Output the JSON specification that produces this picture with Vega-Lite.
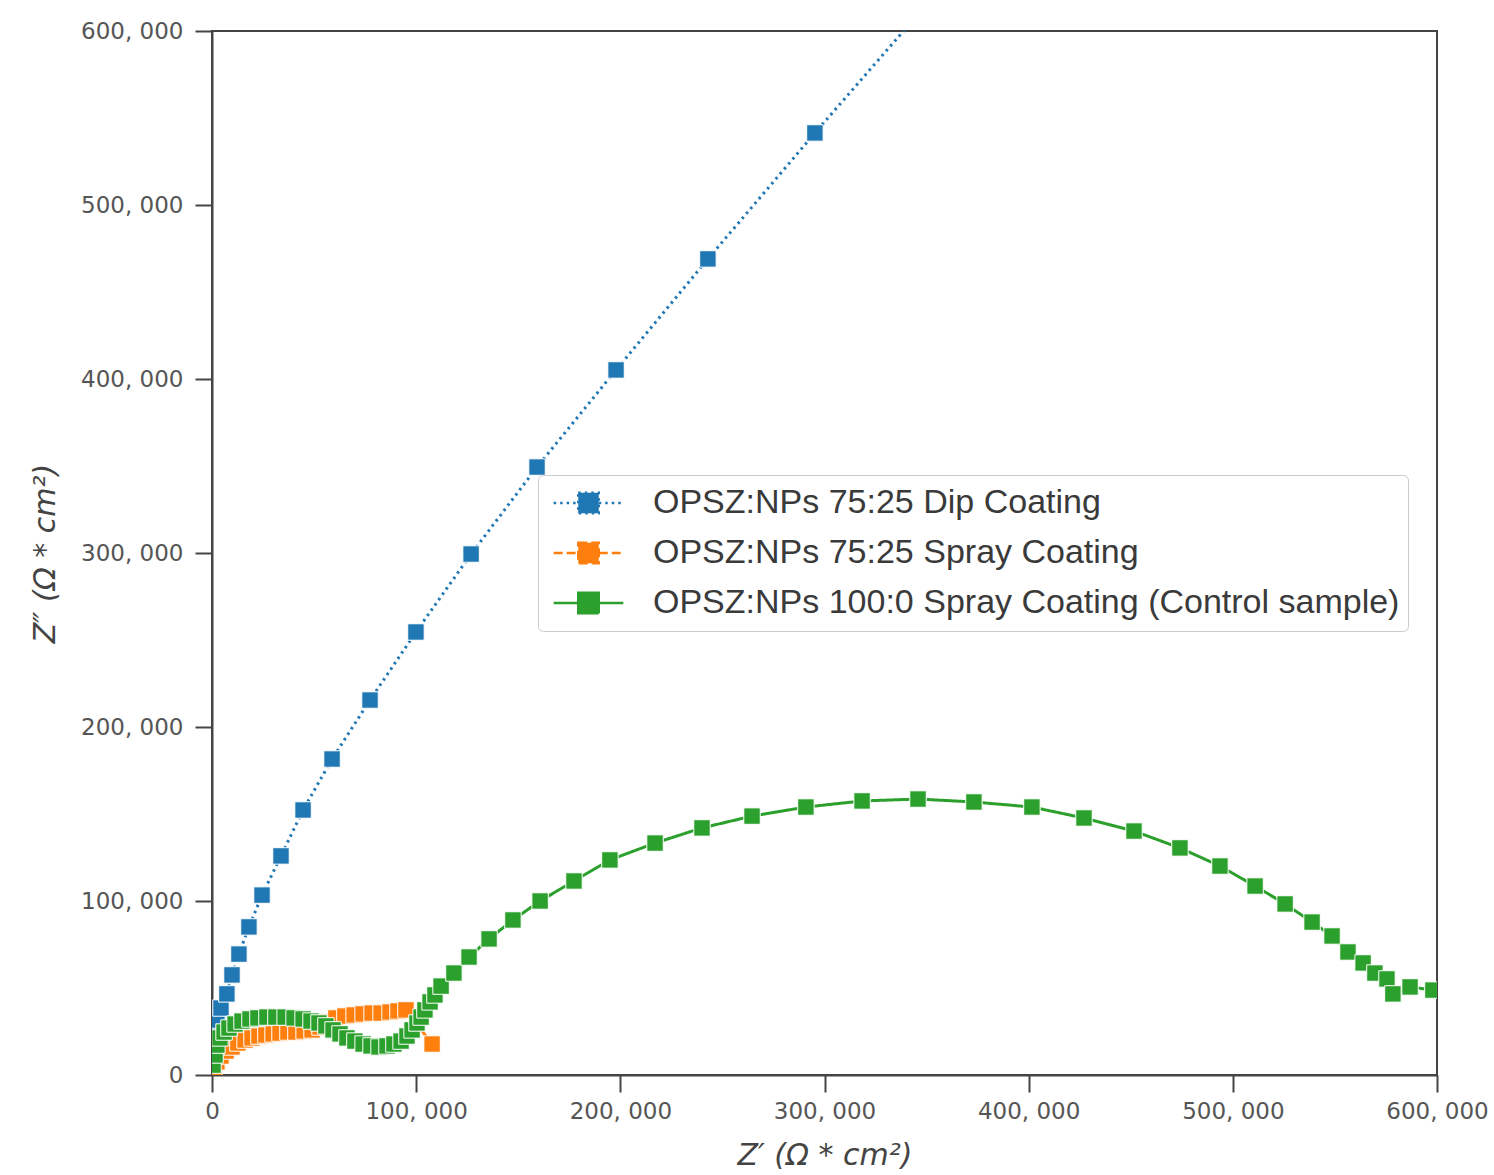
{
  "$schema": "https://vega.github.io/schema/vega-lite/v6.json",
  "autosize": {"type": "none"},
  "padding": {"left": 212, "top": 31, "right": 57, "bottom": 100},
  "width": 1225,
  "height": 1044,
  "background": "white",
  "config": {
    "view": {"stroke": "#444", "strokeWidth": 2},
    "axis": {
      "grid": false,
      "domainColor": "#444",
      "domainWidth": 2,
      "tickColor": "#444",
      "tickWidth": 2,
      "tickSize": 17,
      "labelFont": "DejaVu Sans",
      "labelFontSize": 23,
      "labelColor": "#555",
      "titleFont": "DejaVu Sans",
      "titleFontSize": 30,
      "titleFontWeight": "normal",
      "titleFontStyle": "italic",
      "titleColor": "#444"
    }
  },
  "data": {
    "values": [
      {"s": "OPSZ:NPs 75:25 Dip Coating", "x": 1200, "y": 26000},
      {"s": "OPSZ:NPs 75:25 Dip Coating", "x": 2400, "y": 31600},
      {"s": "OPSZ:NPs 75:25 Dip Coating", "x": 4400, "y": 38500},
      {"s": "OPSZ:NPs 75:25 Dip Coating", "x": 7300, "y": 46600},
      {"s": "OPSZ:NPs 75:25 Dip Coating", "x": 9800, "y": 57500},
      {"s": "OPSZ:NPs 75:25 Dip Coating", "x": 13200, "y": 69500},
      {"s": "OPSZ:NPs 75:25 Dip Coating", "x": 18100, "y": 85100},
      {"s": "OPSZ:NPs 75:25 Dip Coating", "x": 24500, "y": 103400},
      {"s": "OPSZ:NPs 75:25 Dip Coating", "x": 33800, "y": 125900},
      {"s": "OPSZ:NPs 75:25 Dip Coating", "x": 44600, "y": 152300},
      {"s": "OPSZ:NPs 75:25 Dip Coating", "x": 58800, "y": 181600},
      {"s": "OPSZ:NPs 75:25 Dip Coating", "x": 77400, "y": 215500},
      {"s": "OPSZ:NPs 75:25 Dip Coating", "x": 99900, "y": 254600},
      {"s": "OPSZ:NPs 75:25 Dip Coating", "x": 126900, "y": 299400},
      {"s": "OPSZ:NPs 75:25 Dip Coating", "x": 159200, "y": 349400},
      {"s": "OPSZ:NPs 75:25 Dip Coating", "x": 197900, "y": 405200},
      {"s": "OPSZ:NPs 75:25 Dip Coating", "x": 242900, "y": 469000},
      {"s": "OPSZ:NPs 75:25 Dip Coating", "x": 295300, "y": 541400},
      {"s": "OPSZ:NPs 75:25 Dip Coating", "x": 355000, "y": 622000},
      {"s": "OPSZ:NPs 75:25 Spray Coating", "x": 1000, "y": 4000},
      {"s": "OPSZ:NPs 75:25 Spray Coating", "x": 2400, "y": 7500},
      {"s": "OPSZ:NPs 75:25 Spray Coating", "x": 4400, "y": 10900},
      {"s": "OPSZ:NPs 75:25 Spray Coating", "x": 6900, "y": 13800},
      {"s": "OPSZ:NPs 75:25 Spray Coating", "x": 9800, "y": 16100},
      {"s": "OPSZ:NPs 75:25 Spray Coating", "x": 12700, "y": 18400},
      {"s": "OPSZ:NPs 75:25 Spray Coating", "x": 16200, "y": 20100},
      {"s": "OPSZ:NPs 75:25 Spray Coating", "x": 19600, "y": 21300},
      {"s": "OPSZ:NPs 75:25 Spray Coating", "x": 23000, "y": 22400},
      {"s": "OPSZ:NPs 75:25 Spray Coating", "x": 26400, "y": 23000},
      {"s": "OPSZ:NPs 75:25 Spray Coating", "x": 29900, "y": 23600},
      {"s": "OPSZ:NPs 75:25 Spray Coating", "x": 33300, "y": 24100},
      {"s": "OPSZ:NPs 75:25 Spray Coating", "x": 37200, "y": 24700},
      {"s": "OPSZ:NPs 75:25 Spray Coating", "x": 41100, "y": 24700},
      {"s": "OPSZ:NPs 75:25 Spray Coating", "x": 45100, "y": 25300},
      {"s": "OPSZ:NPs 75:25 Spray Coating", "x": 49000, "y": 25900},
      {"s": "OPSZ:NPs 75:25 Spray Coating", "x": 52900, "y": 27600},
      {"s": "OPSZ:NPs 75:25 Spray Coating", "x": 56800, "y": 30500},
      {"s": "OPSZ:NPs 75:25 Spray Coating", "x": 60700, "y": 32800},
      {"s": "OPSZ:NPs 75:25 Spray Coating", "x": 65100, "y": 33900},
      {"s": "OPSZ:NPs 75:25 Spray Coating", "x": 69600, "y": 34500},
      {"s": "OPSZ:NPs 75:25 Spray Coating", "x": 74000, "y": 35100},
      {"s": "OPSZ:NPs 75:25 Spray Coating", "x": 78400, "y": 35600},
      {"s": "OPSZ:NPs 75:25 Spray Coating", "x": 82800, "y": 35600},
      {"s": "OPSZ:NPs 75:25 Spray Coating", "x": 87200, "y": 36200},
      {"s": "OPSZ:NPs 75:25 Spray Coating", "x": 91100, "y": 36800},
      {"s": "OPSZ:NPs 75:25 Spray Coating", "x": 95000, "y": 37400},
      {"s": "OPSZ:NPs 75:25 Spray Coating", "x": 107800, "y": 17800},
      {"s": "OPSZ:NPs 100:0 Spray Coating (Control sample)", "x": 500, "y": 5700},
      {"s": "OPSZ:NPs 100:0 Spray Coating (Control sample)", "x": 1500, "y": 11500},
      {"s": "OPSZ:NPs 100:0 Spray Coating (Control sample)", "x": 2400, "y": 17200},
      {"s": "OPSZ:NPs 100:0 Spray Coating (Control sample)", "x": 3900, "y": 21300},
      {"s": "OPSZ:NPs 100:0 Spray Coating (Control sample)", "x": 5900, "y": 24700},
      {"s": "OPSZ:NPs 100:0 Spray Coating (Control sample)", "x": 8300, "y": 27000},
      {"s": "OPSZ:NPs 100:0 Spray Coating (Control sample)", "x": 11300, "y": 29300},
      {"s": "OPSZ:NPs 100:0 Spray Coating (Control sample)", "x": 14700, "y": 31000},
      {"s": "OPSZ:NPs 100:0 Spray Coating (Control sample)", "x": 18600, "y": 32200},
      {"s": "OPSZ:NPs 100:0 Spray Coating (Control sample)", "x": 22500, "y": 32800},
      {"s": "OPSZ:NPs 100:0 Spray Coating (Control sample)", "x": 26900, "y": 33300},
      {"s": "OPSZ:NPs 100:0 Spray Coating (Control sample)", "x": 31300, "y": 33300},
      {"s": "OPSZ:NPs 100:0 Spray Coating (Control sample)", "x": 35800, "y": 33300},
      {"s": "OPSZ:NPs 100:0 Spray Coating (Control sample)", "x": 40200, "y": 32800},
      {"s": "OPSZ:NPs 100:0 Spray Coating (Control sample)", "x": 44600, "y": 32200},
      {"s": "OPSZ:NPs 100:0 Spray Coating (Control sample)", "x": 48500, "y": 31000},
      {"s": "OPSZ:NPs 100:0 Spray Coating (Control sample)", "x": 52400, "y": 29900},
      {"s": "OPSZ:NPs 100:0 Spray Coating (Control sample)", "x": 55800, "y": 28200},
      {"s": "OPSZ:NPs 100:0 Spray Coating (Control sample)", "x": 59300, "y": 25900},
      {"s": "OPSZ:NPs 100:0 Spray Coating (Control sample)", "x": 62700, "y": 23600},
      {"s": "OPSZ:NPs 100:0 Spray Coating (Control sample)", "x": 66100, "y": 21300},
      {"s": "OPSZ:NPs 100:0 Spray Coating (Control sample)", "x": 70000, "y": 19500},
      {"s": "OPSZ:NPs 100:0 Spray Coating (Control sample)", "x": 74000, "y": 17800},
      {"s": "OPSZ:NPs 100:0 Spray Coating (Control sample)", "x": 77900, "y": 16700},
      {"s": "OPSZ:NPs 100:0 Spray Coating (Control sample)", "x": 81800, "y": 16100},
      {"s": "OPSZ:NPs 100:0 Spray Coating (Control sample)", "x": 85700, "y": 16700},
      {"s": "OPSZ:NPs 100:0 Spray Coating (Control sample)", "x": 89100, "y": 17800},
      {"s": "OPSZ:NPs 100:0 Spray Coating (Control sample)", "x": 92600, "y": 19500},
      {"s": "OPSZ:NPs 100:0 Spray Coating (Control sample)", "x": 95500, "y": 22400},
      {"s": "OPSZ:NPs 100:0 Spray Coating (Control sample)", "x": 98000, "y": 25900},
      {"s": "OPSZ:NPs 100:0 Spray Coating (Control sample)", "x": 100400, "y": 29900},
      {"s": "OPSZ:NPs 100:0 Spray Coating (Control sample)", "x": 102400, "y": 33300},
      {"s": "OPSZ:NPs 100:0 Spray Coating (Control sample)", "x": 104300, "y": 37400},
      {"s": "OPSZ:NPs 100:0 Spray Coating (Control sample)", "x": 106800, "y": 42000},
      {"s": "OPSZ:NPs 100:0 Spray Coating (Control sample)", "x": 109200, "y": 46000},
      {"s": "OPSZ:NPs 100:0 Spray Coating (Control sample)", "x": 112200, "y": 51100},
      {"s": "OPSZ:NPs 100:0 Spray Coating (Control sample)", "x": 118500, "y": 58600},
      {"s": "OPSZ:NPs 100:0 Spray Coating (Control sample)", "x": 125900, "y": 67800},
      {"s": "OPSZ:NPs 100:0 Spray Coating (Control sample)", "x": 135700, "y": 78200},
      {"s": "OPSZ:NPs 100:0 Spray Coating (Control sample)", "x": 147400, "y": 89100},
      {"s": "OPSZ:NPs 100:0 Spray Coating (Control sample)", "x": 160700, "y": 100000},
      {"s": "OPSZ:NPs 100:0 Spray Coating (Control sample)", "x": 177300, "y": 111500},
      {"s": "OPSZ:NPs 100:0 Spray Coating (Control sample)", "x": 194900, "y": 123600},
      {"s": "OPSZ:NPs 100:0 Spray Coating (Control sample)", "x": 217000, "y": 133300},
      {"s": "OPSZ:NPs 100:0 Spray Coating (Control sample)", "x": 240000, "y": 142000},
      {"s": "OPSZ:NPs 100:0 Spray Coating (Control sample)", "x": 264500, "y": 148800},
      {"s": "OPSZ:NPs 100:0 Spray Coating (Control sample)", "x": 290900, "y": 154000},
      {"s": "OPSZ:NPs 100:0 Spray Coating (Control sample)", "x": 318400, "y": 157500},
      {"s": "OPSZ:NPs 100:0 Spray Coating (Control sample)", "x": 345800, "y": 158600},
      {"s": "OPSZ:NPs 100:0 Spray Coating (Control sample)", "x": 373200, "y": 156900},
      {"s": "OPSZ:NPs 100:0 Spray Coating (Control sample)", "x": 401600, "y": 154000},
      {"s": "OPSZ:NPs 100:0 Spray Coating (Control sample)", "x": 427100, "y": 147700},
      {"s": "OPSZ:NPs 100:0 Spray Coating (Control sample)", "x": 451600, "y": 140200},
      {"s": "OPSZ:NPs 100:0 Spray Coating (Control sample)", "x": 474100, "y": 130500},
      {"s": "OPSZ:NPs 100:0 Spray Coating (Control sample)", "x": 493700, "y": 120100},
      {"s": "OPSZ:NPs 100:0 Spray Coating (Control sample)", "x": 510900, "y": 108600},
      {"s": "OPSZ:NPs 100:0 Spray Coating (Control sample)", "x": 525600, "y": 98300},
      {"s": "OPSZ:NPs 100:0 Spray Coating (Control sample)", "x": 538800, "y": 87900},
      {"s": "OPSZ:NPs 100:0 Spray Coating (Control sample)", "x": 548600, "y": 79900},
      {"s": "OPSZ:NPs 100:0 Spray Coating (Control sample)", "x": 556400, "y": 70700},
      {"s": "OPSZ:NPs 100:0 Spray Coating (Control sample)", "x": 563800, "y": 64400},
      {"s": "OPSZ:NPs 100:0 Spray Coating (Control sample)", "x": 569600, "y": 58600},
      {"s": "OPSZ:NPs 100:0 Spray Coating (Control sample)", "x": 575500, "y": 55200},
      {"s": "OPSZ:NPs 100:0 Spray Coating (Control sample)", "x": 578400, "y": 46600},
      {"s": "OPSZ:NPs 100:0 Spray Coating (Control sample)", "x": 586800, "y": 50600},
      {"s": "OPSZ:NPs 100:0 Spray Coating (Control sample)", "x": 598000, "y": 48800}
    ]
  },
  "encoding": {
    "x": {
      "field": "x",
      "type": "quantitative",
      "scale": {"domain": [0, 600000], "nice": false, "zero": false},
      "axis": {
        "title": "Z′ (Ω * cm²)",
        "values": [0, 100000, 200000, 300000, 400000, 500000, 600000],
        "labelExpr": "replace(format(datum.value, ','), ',', ', ')",
        "labelPadding": 8,
        "titlePadding": 17,
        "labelFlush": false,
        "labelOverlap": false
      }
    },
    "y": {
      "field": "y",
      "type": "quantitative",
      "scale": {"domain": [0, 600000], "nice": false, "zero": false},
      "axis": {
        "title": "Z″ (Ω * cm²)",
        "values": [0, 100000, 200000, 300000, 400000, 500000, 600000],
        "labelExpr": "replace(format(datum.value, ','), ',', ', ')",
        "labelPadding": 12,
        "titlePadding": 20,
        "labelFlush": false,
        "labelOverlap": false
      }
    }
  },
  "layer": [
    {
      "mark": {"type": "line", "clip": true, "strokeWidth": 3},
      "encoding": {
        "color": {
          "field": "s",
          "type": "nominal",
          "scale": {
            "domain": ["OPSZ:NPs 75:25 Dip Coating", "OPSZ:NPs 75:25 Spray Coating", "OPSZ:NPs 100:0 Spray Coating (Control sample)"],
            "range": ["#1f77b4", "#ff7f0e", "#2ca02c"]
          },
          "legend": {
            "title": null,
            "orient": "none",
            "legendX": 326,
            "legendY": 444,
            "symbolType": "M-0.85,0H-0.25M0.25,0H0.85M-0.25,-0.25H0.25V0.25H-0.25Z",
            "symbolSize": 6724,
            "symbolStrokeWidth": 2.5,
            "labelFont": "Liberation Sans",
            "labelFontSize": 34,
            "labelColor": "#3a3a3a",
            "labelOffset": 22,
            "labelLimit": 1000,
            "padding": 8,
            "clipHeight": 40,
            "rowPadding": 10,
            "strokeColor": "#cccccc",
            "fillColor": "rgba(255,255,255,0.85)",
            "cornerRadius": 5,
            "encode": {
              "symbols": {
                "update": {
                  "fill": {"scale": "color", "field": "value"},
                  "fillOpacity": {"value": 1},
                  "opacity": {"value": 1}
                }
              }
            }
          }
        },
        "strokeDash": {
          "field": "s",
          "type": "nominal",
          "scale": {
            "domain": ["OPSZ:NPs 75:25 Dip Coating", "OPSZ:NPs 75:25 Spray Coating", "OPSZ:NPs 100:0 Spray Coating (Control sample)"],
            "range": [[2.5, 4], [9, 4], [1, 0]]
          },
          "legend": {
            "title": null,
            "orient": "none",
            "legendX": 326,
            "legendY": 444
          }
        }
      }
    },
    {
      "mark": {"type": "point", "shape": "square", "filled": true, "size": 270, "opacity": 1, "stroke": "white", "strokeWidth": 1, "clip": true},
      "encoding": {
        "color": {"field": "s", "type": "nominal"}
      }
    }
  ]
}
